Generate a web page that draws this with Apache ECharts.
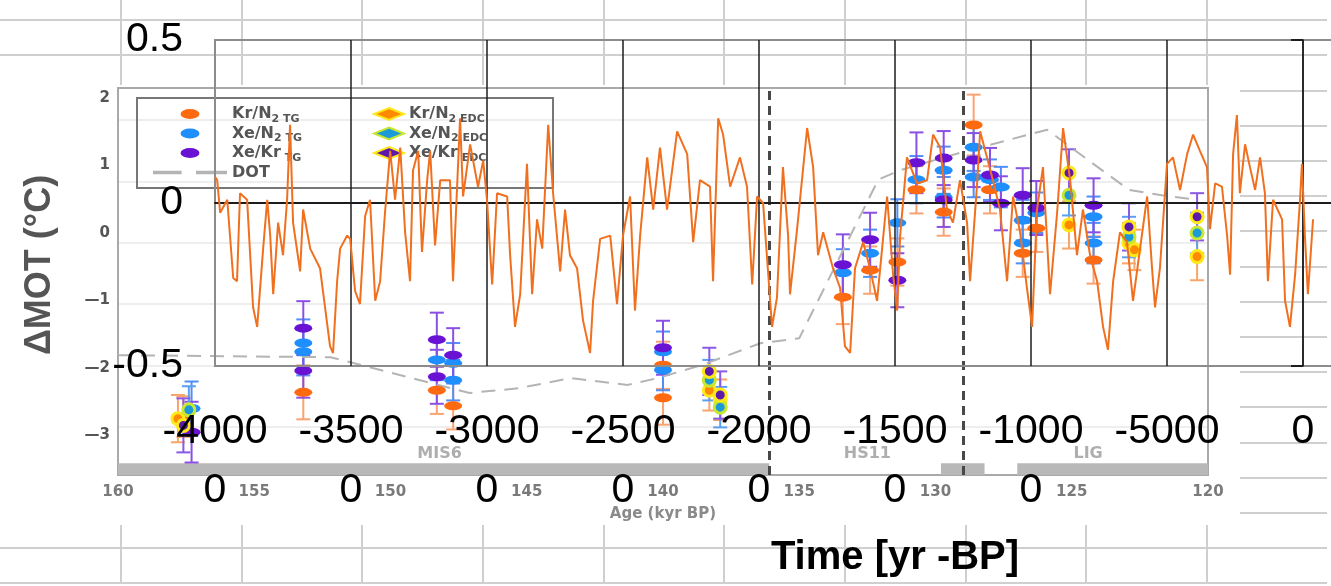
<!DOCTYPE html>
<html><head><meta charset="utf-8">
<script src="https://cdn.jsdelivr.net/npm/echarts@6/dist/echarts.min.js"></script>
<style>html,body{margin:0;padding:0;background:#fff}#c{width:1331px;height:586px}</style>
</head><body><div id="c"></div>
<script>
// ---------- overlay (spreadsheet) chart: time [yr] vs temperature anomaly ----------
const timeYears = [-40000,-39920,-39810,-39550,-39330,-39190,-39080,-38820,-38600,-38450,
-38230,-38080,-37970,-37860,-37680,-37500,-37350,-37240,-37130,-36870,
-36760,-36500,-36140,-35770,-35660,-35510,-35400,-35140,-35030,-34850,
-34670,-34480,-34300,-34110,-33930,-33750,-33560,-33380,-33190,-33010,
-32830,-32720,-32530,-32390,-32200,-32090,-31910,-31720,-31360,-31250,
-30990,-30880,-30620,-30330,-30140,-30000,-29810,-29630,-29260,-29150,
-28970,-28780,-28530,-28340,-28160,-27970,-27750,-27570,-27310,-27130,
-26950,-26690,-26470,-26210,-26100,-25840,-25470,-25220,-25000,-24740,
-24560,-24370,-24110,-23890,-23640,-23380,-23010,-22640,-22420,-22170,
-21800,-21690,-21500,-21320,-21060,-20700,-20440,-20250,-20070,-19850,
-19520,-19340,-19120,-18930,-18860,-18600,-18230,-18010,-17830,-17640,
-17280,-17020,-16840,-16650,-16470,-16170,-15920,-15660,-15290,-15070,
-14920,-14810,-14560,-14190,-13820,-13600,-13340,-13090,-12870,-12610,
-12350,-12240,-11980,-11870,-11620,-11400,-11140,-10880,-10660,-10400,
-10150,-9960,-9780,-9560,-9300,-9040,-8820,-8560,-8310,-8090,
-7830,-7570,-7350,-7170,-6980,-6730,-6470,-6250,-5990,-5730,
-5550,-5440,-5260,-5000,-4780,-4520,-4260,-4040,-3790,-3530,
-3420,-3230,-2980,-2790,-2680,-2570,-2430,-2320,-2130,-1950,
-1760,-1580,-1400,-1290,-1100,-770,-660,-480,-290,-110,
-40,70,180,370];
const tempValues = [0.08,0.07,-0.03,0.01,-0.23,-0.24,0.03,0.01,-0.32,-0.38,
-0.14,0.01,-0.10,-0.28,-0.06,-0.16,0.01,0.24,-0.06,-0.21,
-0.02,-0.14,-0.20,-0.44,-0.46,-0.24,-0.14,-0.10,-0.11,-0.27,
-0.31,-0.04,0.01,-0.30,-0.24,-0.03,0.16,0.01,0.17,-0.09,
-0.24,0.10,0.16,-0.15,0.07,0.16,-0.13,0.07,0.07,-0.24,
0.26,0.02,0.18,0.05,0.13,0.01,-0.25,0.03,0.02,-0.16,
-0.38,-0.28,0.12,-0.28,-0.05,-0.14,0.24,0.03,-0.21,-0.02,
-0.16,-0.20,-0.36,-0.46,-0.30,-0.11,-0.10,-0.31,-0.10,0.02,
-0.33,-0.10,0.14,-0.02,0.17,-0.02,0.22,0.15,-0.12,0.07,
0.05,-0.24,0.26,0.21,0.05,0.14,0.05,-0.25,0.02,0.00,
-0.38,-0.29,0.11,-0.10,-0.28,-0.08,0.23,0.11,-0.16,-0.09,
-0.20,-0.26,-0.44,-0.46,-0.20,-0.12,-0.20,-0.30,0.02,-0.22,
-0.33,-0.10,0.14,0.06,0.07,0.21,0.17,-0.02,-0.06,0.07,
-0.06,-0.24,0.06,0.22,0.14,0.07,-0.02,-0.24,0.02,-0.09,
-0.26,-0.38,-0.02,0.11,-0.28,-0.03,0.23,0.07,-0.16,-0.02,
-0.16,-0.24,-0.38,-0.45,-0.24,-0.09,-0.12,-0.30,-0.14,0.02,
-0.20,-0.32,-0.20,0.12,0.14,0.04,0.15,0.21,0.16,0.11,
-0.08,0.06,0.05,-0.10,-0.22,0.15,0.27,0.03,0.18,0.11,
0.04,0.14,0.03,-0.24,0.01,-0.05,-0.30,-0.38,-0.22,0.01,
0.12,-0.10,-0.28,-0.05];
const overlayYTicksEnd = [-0.5, 0.5];

// ---------- underlying figure: ΔMOT vs age (kyr BP), [age, value, error] ----------
const krN2TG = [[157.6,-2.72,0.30],[153.2,-2.36,0.40],[148.3,-2.33,0.35],[147.7,-2.56,0.35],[140.0,-1.96,0.35],[140.0,-2.44,0.40],
 [133.4,-0.95,0.40],[132.4,-0.55,0.35],[131.4,-0.43,0.35],[130.7,0.64,0.35],[129.7,0.31,0.35],[128.6,1.60,0.45],[128.0,0.64,0.35],
 [126.8,-0.30,0.35],[126.3,0.07,0.35],[124.2,-0.40,0.35]];
const xeN2TG = [[157.3,-2.60,0.40],[153.2,-1.63,0.35],[153.2,-1.76,0.35],[148.3,-1.88,0.30],[147.7,-1.93,0.30],[147.7,-2.18,0.30],
 [140.0,-1.76,0.30],[140.0,-2.03,0.30],[133.4,-0.59,0.35],[132.4,-0.30,0.35],[131.4,0.15,0.35],[130.7,0.79,0.35],[129.7,0.93,0.35],
 [129.7,0.53,0.30],[128.6,1.27,0.35],[128.6,0.83,0.30],[128.0,0.79,0.30],[127.6,0.68,0.30],[126.8,0.19,0.30],[126.8,-0.15,0.30],
 [126.3,0.30,0.30],[124.2,0.24,0.30],[124.2,-0.15,0.30]];
const xeKrTG = [[157.3,-2.95,0.45],[153.2,-1.41,0.40],[153.2,-2.04,0.40],[148.3,-1.58,0.40],[148.3,-2.13,0.40],[147.7,-1.81,0.40],
 [140.0,-1.70,0.40],[133.4,-0.47,0.45],[132.4,-0.10,0.40],[131.4,-0.70,0.40],[130.7,1.04,0.45],[129.7,1.11,0.40],[129.7,0.49,0.40],
 [128.6,1.08,0.40],[128.0,0.86,0.40],[127.6,0.44,0.40],[126.8,0.56,0.40],[126.3,0.37,0.40],[124.2,0.41,0.40]];
const krN2EDC = [[157.8,-2.75,0.35],[138.3,-2.33,0.30],[137.9,-2.47,0.30],[125.1,0.12,0.35],[122.9,-0.15,0.30],[122.7,-0.25,0.30],[120.4,-0.35,0.35]];
const xeN2EDC = [[157.4,-2.62,0.35],[138.3,-2.18,0.30],[137.9,-2.58,0.30],[125.1,0.56,0.30],[122.9,-0.06,0.30],[120.4,0.00,0.30]];
const xeKrEDC = [[157.6,-2.85,0.40],[138.3,-2.05,0.35],[137.9,-2.40,0.35],[125.1,0.89,0.35],[122.9,0.09,0.35],[120.4,0.24,0.35]];
const dotAges   = [160.0,152.2,149.7,147.1,145.3,143.4,141.3,140.2,138.6,136.4,135.0,132.1,131.3,129.0,125.9,124.4,122.9,121.7,120.4];
const dotValues = [-1.81,-1.84,-2.10,-2.37,-2.30,-2.15,-2.25,-2.15,-1.96,-1.63,-1.56,0.79,0.93,1.20,1.53,1.08,0.64,0.56,0.49];
const sciYTicks = [-3,-2,-1,0,1,2];
const periodBars = [[160,136.1],[129.8,128.2],[127.0,120.0]];
const periodNames = ['MIS6','HS11','LIG'];
const periodLabelAges = [148.2,132.5,124.4];
const hsBounds = [136.1,129.0];

// ---------- rendering ----------
const chart = echarts.init(document.getElementById('c'), null, {renderer:'canvas'});
const ELLIPSE = 'path://M0,4.5a8.5,4.5 0 1,0 17,0a8.5,4.5 0 1,0 -17,0z';
const DASHES = 'path://M0,0H24V3H0Z M36,0H62V3H36Z';
const SCI_X = 2, SCI_Y = 2;
const BAR_TOP = -3.41, BAR_BOT = -3.585;

function errSeries(name, arr, color){
  return {name: name+' err', type:'custom', xAxisIndex:SCI_X, yAxisIndex:SCI_Y, z:4, silent:true,
    data: arr, encode:{x:0,y:1},
    renderItem: function(params, api){
      const x=api.value(0), y=api.value(1), e=api.value(2);
      const t=api.coord([x,y+e]), b=api.coord([x,y-e]); const h=7;
      const st={stroke:color,lineWidth:2};
      return {type:'group', children:[
        {type:'line', shape:{x1:t[0],y1:t[1],x2:b[0],y2:b[1]}, style:st},
        {type:'line', shape:{x1:t[0]-h,y1:t[1],x2:t[0]+h,y2:t[1]}, style:st},
        {type:'line', shape:{x1:b[0]-h,y1:b[1],x2:b[0]+h,y2:b[1]}, style:st}]};
    }};
}
function ptSeries(name, arr, color, edc){
  return {name:name, type:'scatter', xAxisIndex:SCI_X, yAxisIndex:SCI_Y, z:5, silent:true,
    data: arr.map(d=>[d[0],d[1]]),
    symbol: 'circle', symbolSize: edc ? 12 : [18,9],
    itemStyle: edc ? {color:color, borderColor: (name==='Xe/N2 EDC' ? '#c8e632' : '#ffe81a'), borderWidth:3, opacity:1}
                   : {color:color, opacity:1}};
}
const legendRich = {
  m:{fontSize:16, fontWeight:'bold', color:'#555', fontFamily:'DejaVu Sans', lineHeight:21},
  s:{fontSize:11, fontWeight:'bold', color:'#555', fontFamily:'DejaVu Sans', lineHeight:13, verticalAlign:'bottom'}
};
function legendFmt(name){
  const p = name.split(' ');
  const base = p[0], tag = p[1] || '';
  if (base.endsWith('2')) return '{m|' + base.slice(0,-1) + '}{s|2 ' + tag + '}';
  if (tag) return '{m|' + base + '}{s| ' + tag + '}';
  return '{m|' + base + '}';
}
const hidden = {axisLine:{show:false}, axisTick:{show:false}, axisLabel:{show:false}};
const splitBlack = ['#8c8c8c'].concat(Array(10).fill('#1c1c1c'));
const fontBig = '"Liberation Sans", Arial, sans-serif';

const option = {
  animation:false,
  backgroundColor:'#fff',
  grid:[
    {left:0, top:-15.19, width:1327, height:598.2, show:false, z:0, outerBoundsMode:'none'},
    {left:118, top:120, width:1090, height:307, show:false, z:2, outerBoundsMode:'none'},
    {left:118, top:88, width:1090, height:387, show:true, borderColor:'#a9a9a9', borderWidth:2, backgroundColor:'transparent', z:3, outerBoundsMode:'none'},
    {left:215, top:40, width:1360, height:326, show:true, borderColor:'#8c8c8c', borderWidth:2, backgroundColor:'transparent', z:6, outerBoundsMode:'none'}
  ],
  xAxis:[
    Object.assign({gridIndex:0, type:'value', min:0, max:10.997, interval:1, z:0,
      splitLine:{show:true, showMinLine:false, showMaxLine:false, lineStyle:{color:'#cfcfcf', width:2}}}, hidden),
    Object.assign({gridIndex:1, type:'value', min:0, max:1, z:2, splitLine:{show:false}}, hidden),
    {gridIndex:2, type:'value', min:120, max:160, interval:5, inverse:true, z:3,
      axisLine:{show:false, onZero:false}, axisTick:{show:false}, splitLine:{show:false},
      axisLabel:{fontSize:15, fontWeight:'bold', color:'#7a7a7a', margin:10, fontFamily:'DejaVu Sans'},
      name:'Age (kyr BP)', nameLocation:'middle', nameGap:32,
      nameTextStyle:{fontSize:15, fontWeight:'bold', color:'#8a8a8a', fontFamily:'DejaVu Sans'}},
    {gridIndex:3, type:'value', min:-40000, max:10000, interval:5000, position:'bottom', z:6,
      axisLine:{show:false, onZero:false}, axisTick:{show:false},
      splitLine:{show:true, lineStyle:{color:splitBlack, width:1.5}},
      axisLabel:{fontSize:41, fontFamily:fontBig, color:'#000', lineHeight:59, margin:36,
        formatter:function(v){ const s=String(v); return s.length>5 ? s.slice(0,5)+'\n'+s.slice(5) : s; }},
      name:'Time [yr -BP]', nameLocation:'middle', nameGap:172,
      nameTextStyle:{fontSize:40, fontWeight:'bold', fontFamily:fontBig, color:'#000'}},
    {gridIndex:3, type:'value', min:-40000, max:10000, interval:5000, position:'bottom', z:6,
      axisLine:{show:true, onZero:true, lineStyle:{color:'#1c1c1c', width:2}},
      axisTick:{show:false}, axisLabel:{show:false}, splitLine:{show:false}}
  ],
  yAxis:[
    Object.assign({gridIndex:0, type:'value', min:0, max:17, interval:1, inverse:true, z:0,
      splitLine:{show:true, showMinLine:false, lineStyle:{color:'#cfcfcf', width:2}}}, hidden),
    Object.assign({gridIndex:1, type:'value', min:0, max:5, interval:1, z:2,
      splitLine:{show:true, lineStyle:{color:'#e8e8e8', width:1.5}}}, hidden),
    {gridIndex:2, type:'value', min:-3.585, max:2.148, z:3,
      axisLine:{show:false, onZero:false}, axisTick:{show:false}, splitLine:{show:false},
      axisLabel:{customValues:sciYTicks, fontSize:15, fontWeight:'bold', color:'#555', margin:8, fontFamily:'DejaVu Sans',
        formatter:function(v){ return v<0 ? '\u2014' + Math.abs(v) : String(v); }}},
    {gridIndex:3, type:'value', min:-0.5, max:0.5, interval:0.5, position:'left', z:6,
      axisLine:{show:false, onZero:false}, axisTick:{show:false}, splitLine:{show:false},
      axisLabel:{fontSize:41, fontFamily:fontBig, color:'#000', margin:32}},
    {gridIndex:3, type:'value', min:-0.5, max:0.5, position:'left', z:6,
      axisLine:{show:true, onZero:true, lineStyle:{color:'#1c1c1c', width:1.5}},
      axisTick:{show:true, customValues:overlayYTicksEnd, length:12, lineStyle:{color:'#1c1c1c', width:2}},
      axisLabel:{show:false}, splitLine:{show:false}}
  ],
  legend:[
    {orient:'vertical', left:148, top:101, itemWidth:74, itemHeight:10, itemGap:1, z:5, selectedMode:false,
      data:[{name:'Kr/N2 TG', icon:ELLIPSE},{name:'Xe/N2 TG', icon:ELLIPSE},{name:'Xe/Kr TG', icon:ELLIPSE},
            {name:'DOT', icon:DASHES, itemStyle:{color:'#b4b4b4'}}],
      formatter:legendFmt, textStyle:{rich:legendRich}},
    {orient:'vertical', left:368, top:101, itemWidth:30, itemHeight:12, itemGap:1, z:5, selectedMode:false,
      data:[{name:'Kr/N2 EDC', icon:'diamond'},{name:'Xe/N2 EDC', icon:'diamond'},{name:'Xe/Kr EDC', icon:'diamond'}],
      formatter:legendFmt, textStyle:{rich:legendRich}}
  ],
  graphic:{elements:[
    {type:'rect', z:1, silent:true, shape:{x:0,y:85,width:1240,height:440}, style:{fill:'#fff'}},
    {type:'rect', z:5, silent:true, shape:{x:137,y:98,width:416,height:90}, style:{fill:'none', stroke:'#777', lineWidth:2}},
    {type:'text', z:5, silent:true, x:40, y:265, rotation:Math.PI/2,
      style:{text:'\u0394MOT (\u00b0C)', fontSize:36, fontWeight:'bold', fontFamily:fontBig, fill:'#555',
        align:'center', verticalAlign:'middle', textAlign:'center', textVerticalAlign:'middle'}}
  ]},
  series:[
    {name:'DOT', type:'line', xAxisIndex:SCI_X, yAxisIndex:SCI_Y, z:4, silent:true, symbol:'none', legendIcon:DASHES,
      data: dotAges.map((a,i)=>[a, dotValues[i]]),
      lineStyle:{color:'#b4b4b4', width:2, type:[14,9]}, itemStyle:{color:'#b4b4b4'}},
    {name:'periods', type:'custom', xAxisIndex:SCI_X, yAxisIndex:SCI_Y, z:3, silent:true,
      data: periodBars, encode:{x:[0,1]},
      renderItem:function(params, api){
        const p1=api.coord([api.value(0), BAR_TOP]), p2=api.coord([api.value(1), BAR_BOT]);
        return {type:'rect', shape:{x:Math.min(p1[0],p2[0]), y:p1[1], width:Math.abs(p2[0]-p1[0]), height:p2[1]-p1[1]},
          style:{fill:'#b8b8b8'}};
      },
      markLine:{silent:true, symbol:'none', label:{show:false},
        lineStyle:{type:[9,6], color:'#484848', width:3},
        data: hsBounds.map(a=>({xAxis:a}))}},
    {name:'periodLabels', type:'scatter', xAxisIndex:SCI_X, yAxisIndex:SCI_Y, z:4, silent:true, symbolSize:0,
      data: periodNames.map((n,i)=>({name:n, value:[periodLabelAges[i], -3.27]})),
      label:{show:true, position:'inside', formatter:'{b}', fontSize:16, fontWeight:'bold', color:'#9a9a9a', fontFamily:'DejaVu Sans'}},
    errSeries('Kr/N2 TG', krN2TG, '#f9a373'),
    errSeries('Xe/N2 TG', xeN2TG, '#4f8ff7'),
    errSeries('Xe/Kr TG', xeKrTG, '#8a4fe3'),
    errSeries('Kr/N2 EDC', krN2EDC, '#f7a66b'),
    errSeries('Xe/N2 EDC', xeN2EDC, '#5aa0f0'),
    errSeries('Xe/Kr EDC', xeKrEDC, '#8a5ae6'),
    ptSeries('Kr/N2 TG', krN2TG, '#ff6a10', false),
    ptSeries('Xe/N2 TG', xeN2TG, '#1f8fff', false),
    ptSeries('Xe/Kr TG', xeKrTG, '#6a12d4', false),
    ptSeries('Kr/N2 EDC', krN2EDC, '#ff8a00', true),
    ptSeries('Xe/N2 EDC', xeN2EDC, '#1a9ad6', true),
    ptSeries('Xe/Kr EDC', xeKrEDC, '#5c1aaa', true),
    {name:'overlay', type:'line', xAxisIndex:3, yAxisIndex:3, z:7, silent:true, symbol:'none', showSymbol:false,
      data: timeYears.map((t,i)=>[t, tempValues[i]]),
      lineStyle:{color:'#f07020', width:2}}
  ]
};
chart.setOption(option);
</script></body></html>
